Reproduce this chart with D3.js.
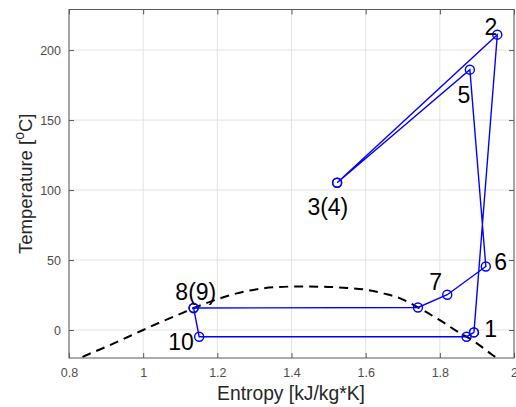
<!DOCTYPE html>
<html>
<head>
<meta charset="utf-8">
<script src="https://cdn.jsdelivr.net/npm/d3@7"></script>
<style>
  body { margin: 0; background: #fff; }
  text { font-family: "Liberation Sans", Arial, sans-serif; }
</style>
</head>
<body>
<div id="chart"></div>
<script>
// cycle state points (entropy kJ/kg*K, temperature C), in drawing order
var cycleS = [1.892, 1.955, 1.523, 1.523, 1.881, 1.924, 1.820, 1.741, 1.136, 1.136, 1.151, 1.872, 1.892];
var cycleT = [-1.7, 211, 105.2, 105.2, 186, 45.4, 25.2, 16.1, 15.7, 15.7, -4.8, -4.8, -1.7];

// saturation dome
var domeS = [0.80, 0.83, 0.90, 1.00, 1.05, 1.10, 1.136, 1.20, 1.25, 1.30, 1.35, 1.42, 1.50, 1.55, 1.60, 1.65, 1.69, 1.741, 1.80, 1.85, 1.872, 1.90, 1.943, 1.96];
var domeT = [-24, -20, -12, 0, 6, 11.5, 15.7, 22, 26, 28.8, 30.5, 31.1, 30.8, 30, 28.8, 26, 23, 16.1, 7, -1.5, -4.8, -9.5, -18, -21];

// state labels
var labelText = ['1', '2', '3(4)', '5', '6', '7', '8(9)', '10'];
var labelS = [1.937, 1.938, 1.498, 1.865, 1.964, 1.789, 1.142, 1.102];
var labelT = [-4.8, 210.9, 82.4, 162.4, 43.1, 28.3, 21.6, -14.1];

// ticks
var xTicks = [0.8, 1, 1.2, 1.4, 1.6, 1.8, 2];
var yTicks = [0, 50, 100, 150, 200];

var width = 516, height = 407;
var plot = { left: 69, right: 514, top: 9.5, bottom: 358 };

var svg = d3.select('#chart').append('svg')
    .attr('width', width)
    .attr('height', height);

var x = d3.scaleLinear().domain([0.8, 2]).range([plot.left, plot.right]);
var y = d3.scaleLinear().domain([-20, 229]).range([plot.bottom, plot.top]);

// clip to axes box
svg.append('clipPath').attr('id', 'clip')
  .append('rect')
    .attr('x', plot.left).attr('y', plot.top)
    .attr('width', plot.right - plot.left)
    .attr('height', plot.bottom - plot.top);

// grid
var grid = svg.append('g');
grid.selectAll('.gx').data(xTicks).enter().append('line')
    .attr('x1', d => x(d)).attr('x2', d => x(d))
    .attr('y1', plot.top).attr('y2', plot.bottom)
    .attr('stroke', '#e3e3e3').attr('stroke-width', 1);
grid.selectAll('.gy').data(yTicks).enter().append('line')
    .attr('y1', d => y(d)).attr('y2', d => y(d))
    .attr('x1', plot.left).attr('x2', plot.right)
    .attr('stroke', '#e3e3e3').attr('stroke-width', 1);

// axes (ticks inward, box on)
var tickColor = '#5a5a5a';
var xAxis = d3.axisBottom(x).tickValues(xTicks).tickSizeInner(-5).tickSizeOuter(0)
    .tickPadding(10).tickFormat(d3.format('~g'));
var yAxis = d3.axisLeft(y).tickValues(yTicks).tickSizeInner(-5).tickSizeOuter(0)
    .tickPadding(8).tickFormat(d3.format('~g'));

var gx = svg.append('g').attr('transform', `translate(0, ${plot.bottom})`).call(xAxis);
var gy = svg.append('g').attr('transform', `translate(${plot.left}, 0)`).call(yAxis);
var gxTop = svg.append('g').attr('transform', `translate(0, ${plot.top})`)
    .call(d3.axisTop(x).tickValues(xTicks).tickSizeInner(-5).tickSizeOuter(0).tickFormat(''));
var gyRight = svg.append('g').attr('transform', `translate(${plot.right}, 0)`)
    .call(d3.axisRight(y).tickValues(yTicks).tickSizeInner(-5).tickSizeOuter(0).tickFormat(''));

[gx, gy, gxTop, gyRight].forEach(function (g) {
    g.select('.domain').remove();
    g.selectAll('line').attr('stroke', tickColor);
    g.selectAll('text').attr('fill', '#4d4d4d').style('font-size', '12.5px')
        .style('font-family', '"Liberation Sans", Arial, sans-serif');
});

svg.append('rect')
    .attr('x', plot.left).attr('y', plot.top)
    .attr('width', plot.right - plot.left)
    .attr('height', plot.bottom - plot.top)
    .attr('fill', 'none').attr('stroke', tickColor).attr('stroke-width', 1);

// axis labels
svg.append('text')
    .attr('x', 291)
    .attr('y', 400)
    .attr('text-anchor', 'middle')
    .attr('fill', '#262626')
    .style('font-size', '19.3px')
    .text('Entropy [kJ/kg*K]');

var yl = svg.append('text')
    .attr('transform', `translate(32, ${(plot.top + plot.bottom) / 2}) rotate(-90)`)
    .attr('text-anchor', 'middle')
    .attr('fill', '#262626')
    .style('font-size', '18.5px');
yl.append('tspan').text('Temperature [');
yl.append('tspan').attr('baseline-shift', 'super').style('font-size', '14px').text('o');
yl.append('tspan').text('C]');

var plotArea = svg.append('g').attr('clip-path', 'url(#clip)');

// saturation dome
var domeData = domeS.map((s, i) => [s, domeT[i]]);
plotArea.append('path')
    .datum(domeData)
    .attr('d', d3.line().x(d => x(d[0])).y(d => y(d[1])).curve(d3.curveMonotoneX))
    .attr('fill', 'none')
    .attr('stroke', '#000')
    .attr('stroke-width', 2)
    .attr('stroke-dasharray', '9,6');

// cycle
var cycleData = cycleS.map((s, i) => [s, cycleT[i]]);
plotArea.append('path')
    .datum(cycleData)
    .attr('d', d3.line().x(d => x(d[0])).y(d => y(d[1])))
    .attr('fill', 'none')
    .attr('stroke', '#0000ff')
    .attr('stroke-width', 1.4);

plotArea.selectAll('circle')
    .data(cycleData)
    .enter()
    .append('circle')
    .attr('cx', d => x(d[0]))
    .attr('cy', d => y(d[1]))
    .attr('r', 4.5)
    .attr('fill', 'none')
    .attr('stroke', '#0000ff')
    .attr('stroke-width', 1.4);

// state labels
svg.selectAll('.lbl')
    .data(labelText)
    .enter()
    .append('text')
    .attr('x', (d, i) => x(labelS[i]))
    .attr('y', (d, i) => y(labelT[i]))
    .attr('text-anchor', 'middle')
    .attr('fill', '#000')
    .style('font-size', '23px')
    .text(d => d);
</script>
</body>
</html>
